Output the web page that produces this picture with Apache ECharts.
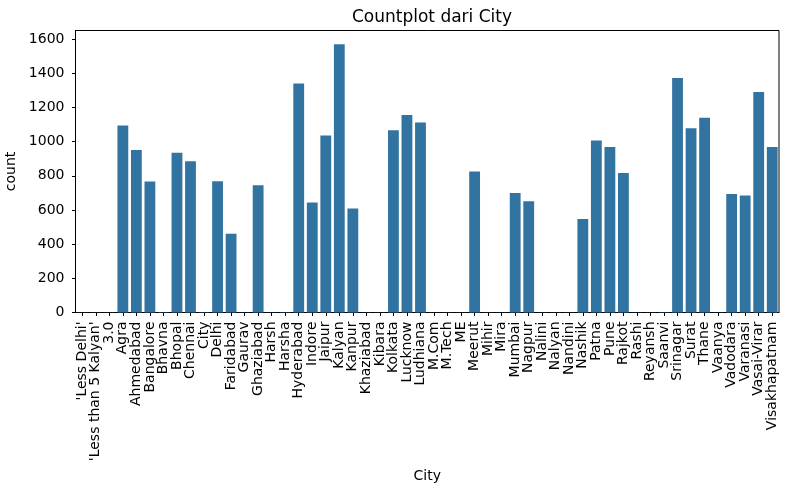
<!DOCTYPE html>
<html>
<head>
<meta charset="utf-8">
<script src="https://cdn.jsdelivr.net/npm/echarts@6/dist/echarts.min.js"></script>
<style>
html,body{margin:0;padding:0;background:#fff;}
#chart{width:789px;height:490px;}
</style>
</head>
<body>
<div id="chart"></div>
<script>
const categories = ["'Less Delhi'", "'Less than 5 Kalyan'", "3.0", "Agra", "Ahmedabad", "Bangalore", "Bhavna", "Bhopal", "Chennai", "City", "Delhi", "Faridabad", "Gaurav", "Ghaziabad", "Harsh", "Harsha", "Hyderabad", "Indore", "Jaipur", "Kalyan", "Kanpur", "Khaziabad", "Kibara", "Kolkata", "Lucknow", "Ludhiana", "M.Com", "M.Tech", "ME", "Meerut", "Mihir", "Mira", "Mumbai", "Nagpur", "Nalini", "Nalyan", "Nandini", "Nashik", "Patna", "Pune", "Rajkot", "Rashi", "Reyansh", "Saanvi", "Srinagar", "Surat", "Thane", "Vaanya", "Vadodara", "Varanasi", "Vasai-Virar", "Visakhapatnam"];
const counts = [1, 1, 1, 1094, 951, 767, 2, 934, 885, 2, 768, 461, 1, 745, 1, 2, 1340, 643, 1036, 1570, 609, 1, 1, 1066, 1155, 1111, 1, 1, 1, 825, 1, 1, 699, 651, 1, 1, 1, 547, 1007, 968, 816, 1, 1, 2, 1372, 1078, 1139, 1, 694, 685, 1290, 969];
const yTicks = [0, 200, 400, 600, 800, 1000, 1200, 1400, 1600];

const chart = echarts.init(document.getElementById('chart'));
const font = 'DejaVu Sans';
chart.setOption({
  animation: false,
  backgroundColor: '#fff',
  textStyle: {fontFamily: font},
  title: {
    text: 'Countplot dari City',
    left: 427, top: 4, textAlign: 'center',
    textStyle: {fontFamily: font, fontSize: 17, fontWeight: 'normal', color: '#000'}
  },
  grid: {
    left: 75.5, right: 10, top: 30.5, bottom: 177.5,
    show: true, borderColor: '#000', borderWidth: 1,
    containLabel: false, outerBoundsMode: 'none'
  },
  xAxis: {
    type: 'category',
    data: categories,
    name: 'City',
    nameLocation: 'middle',
    nameGap: 149,
    nameTextStyle: {fontFamily: font, fontSize: 14, color: '#000'},
    axisLine: {show: true, lineStyle: {color: '#000', width: 1}},
    axisTick: {show: true, alignWithLabel: true, interval: 0, length: 3.5, lineStyle: {color: '#000', width: 1}},
    axisLabel: {interval: 0, rotate: 90, margin: 9, fontFamily: font, fontSize: 14, color: '#000'},
    splitLine: {show: false}
  },
  yAxis: {
    type: 'value',
    min: 0, max: 1650,
    name: 'count',
    nameLocation: 'middle',
    nameGap: 51,
    nameRotate: 90,
    nameTextStyle: {fontFamily: font, fontSize: 14, color: '#000'},
    axisLine: {show: true, lineStyle: {color: '#000', width: 1}},
    axisTick: {show: true, length: 3.5, customValues: yTicks, lineStyle: {color: '#000', width: 1}},
    axisLabel: {margin: 11, customValues: yTicks, formatter: v => String(v), fontFamily: font, fontSize: 14, color: '#000'},
    splitLine: {show: false}
  },
  series: [{
    type: 'bar',
    data: counts,
    barWidth: '80%',
    itemStyle: {color: '#3274a1'}
  }]
});
</script>
</body>
</html>
